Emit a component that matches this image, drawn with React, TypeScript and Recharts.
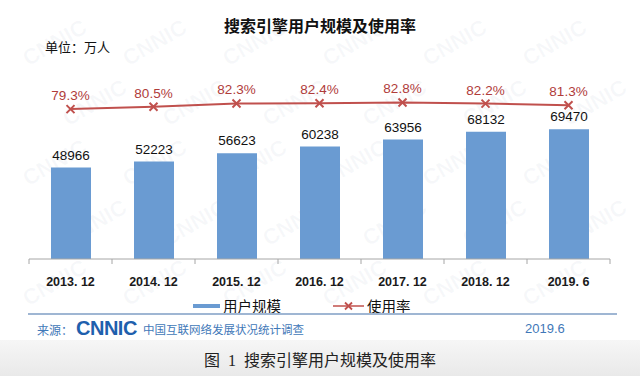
import React from "react";
import {
  Bar,
  ComposedChart,
  LabelList,
  Line,
  XAxis,
  YAxis,
} from "recharts";

const categories = ["2013. 12", "2014. 12", "2015. 12", "2016. 12", "2017. 12", "2018. 12", "2019. 6"];
const userScale = [48966, 52223, 56623, 60238, 63956, 68132, 69470];
const usageRate = [79.3, 80.5, 82.3, 82.4, 82.8, 82.2, 81.3];

const chartData = categories.map((c, i) => ({
  period: c,
  users: userScale[i],
  rate: usageRate[i],
}));

const W = 640;
const H = 376;
const PLOT_LEFT = 29;
const PLOT_RIGHT = 610;
const BAND = (PLOT_RIGHT - PLOT_LEFT) / categories.length;

const SANS = '"Liberation Sans", Arial, "Noto Sans CJK SC", sans-serif';
const CJK = '"Noto Sans CJK SC", "Liberation Sans", sans-serif';
const BAR_COLOR = "#6a9bd2";
const LINE_COLOR = "#c0504d";
const FOOT_BLUE = "#3f78b8";

function CrossDot(props: any) {
  const { cx, cy } = props;
  if (cx == null || cy == null) return null;
  const s = 4;
  return (
    <path
      d={`M${cx - s},${cy - s}L${cx + s},${cy + s}M${cx + s},${cy - s}L${cx - s},${cy + s}`}
      stroke={LINE_COLOR}
      strokeWidth={2}
      fill="none"
    />
  );
}

function PeriodTick(props: any) {
  const { x, y, payload, index } = props;
  const last = index === categories.length - 1;
  const top = y - 8;
  return (
    <g>
      <line x1={x - BAND / 2} y1={top} x2={x - BAND / 2} y2={top + 5} stroke="#a6a6a6" />
      {last && (
        <line x1={x + BAND / 2} y1={top} x2={x + BAND / 2} y2={top + 5} stroke="#a6a6a6" />
      )}
      <text
        x={x}
        y={top + 27}
        textAnchor="middle"
        fontSize={12.5}
        fontWeight="bold"
        fontFamily={SANS}
        fill="#1a1a1a"
      >
        {payload.value}
      </text>
    </g>
  );
}

// faint CNNIC watermark, kept inside the frame
function Watermarks() {
  const marks = [];
  for (let r = 0; r < 5; r++) {
    for (let c = 0; c < 6; c++) {
      marks.push(
        <div
          key={`${r}-${c}`}
          style={{
            position: "absolute",
            left: 20 + c * 100 + (r % 2) * 40,
            top: 30 + r * 60,
            transform: "rotate(-30deg)",
            fontFamily: SANS,
            fontWeight: "bold",
            fontSize: 22,
            color: "rgba(120,140,160,0.06)",
            whiteSpace: "nowrap",
          }}
        >
          CNNIC
        </div>
      );
    }
  }
  return <>{marks}</>;
}

export default function App() {
  return (
    <div
      style={{
        position: "absolute",
        left: 0,
        top: 0,
        width: W,
        height: H,
        background: "#fff",
        overflow: "hidden",
      }}
    >
      <Watermarks />
      <div
        style={{
          position: "absolute",
          left: 0,
          top: 13,
          width: W,
          textAlign: "center",
          fontFamily: CJK,
          fontWeight: "bold",
          fontSize: 16,
          color: "#111",
        }}
      >
        搜索引擎用户规模及使用率
      </div>
      <div
        style={{
          position: "absolute",
          left: 45,
          top: 37,
          fontFamily: CJK,
          fontSize: 13,
          color: "#111",
        }}
      >
        单位：万人
      </div>

      <div style={{ position: "absolute", left: 0, top: 0 }}>
        <ComposedChart
          width={W}
          height={H}
          data={chartData}
          margin={{ top: 35, right: W - PLOT_RIGHT, left: PLOT_LEFT, bottom: 87 }}
        >
          <XAxis
            dataKey="period"
            height={30}
            axisLine={{ stroke: "#a6a6a6" }}
            tickLine={false}
            interval={0}
            tick={<PeriodTick />}
          />
          <YAxis yAxisId="users" hide domain={[0, 120000]} />
          <YAxis yAxisId="rate" hide orientation="right" domain={[0, 118.5]} />
          <Bar
            yAxisId="users"
            dataKey="users"
            fill={BAR_COLOR}
            barSize={40}
            isAnimationActive={false}
          >
            <LabelList
              dataKey="users"
              position="top"
              offset={8}
              fill="#111"
              fontSize={13.5}
              fontFamily={SANS}
            />
          </Bar>
          <Line
            yAxisId="rate"
            dataKey="rate"
            stroke={LINE_COLOR}
            strokeWidth={2}
            dot={<CrossDot />}
            activeDot={false}
            isAnimationActive={false}
          >
            <LabelList
              dataKey="rate"
              position="top"
              offset={9}
              fill="#b03c3a"
              fontSize={13.5}
              fontFamily={SANS}
              formatter={(v: any) => `${Number(v).toFixed(1)}%`}
            />
          </Line>
        </ComposedChart>
      </div>

      {/* legend */}
      <div
        style={{
          position: "absolute",
          top: 295,
          left: 193,
          display: "flex",
          alignItems: "center",
          fontFamily: CJK,
          fontSize: 14.5,
          color: "#111",
        }}
      >
        <svg width={27} height={10}>
          <rect x={0} y={3} width={27} height={4} fill={BAR_COLOR} />
        </svg>
        <span style={{ marginLeft: 3 }}>用户规模</span>
        <svg width={31} height={12} style={{ marginLeft: 52 }}>
          <line x1={0} y1={6} x2={31} y2={6} stroke={LINE_COLOR} strokeWidth={1.5} />
          <path d="M12,2.5L19,9.5M19,2.5L12,9.5" stroke={LINE_COLOR} strokeWidth={1.8} />
        </svg>
        <span style={{ marginLeft: 3 }}>使用率</span>
      </div>

      {/* source bar */}
      <div
        style={{
          position: "absolute",
          left: 28,
          top: 313,
          width: 589,
          height: 2,
          background: "#9fb6d3",
        }}
      />
      <div
        style={{
          position: "absolute",
          left: 37,
          top: 321,
          fontFamily: CJK,
          fontSize: 12,
          color: FOOT_BLUE,
        }}
      >
        来源：
      </div>
      <div
        style={{
          position: "absolute",
          left: 76,
          top: 317,
          fontFamily: SANS,
          fontWeight: "bold",
          fontSize: 20,
          letterSpacing: -0.5,
          color: "#1f60ad",
        }}
      >
        CNNIC
      </div>
      <div
        style={{
          position: "absolute",
          left: 143,
          top: 321,
          fontFamily: CJK,
          fontSize: 11.5,
          color: FOOT_BLUE,
        }}
      >
        中国互联网络发展状况统计调查
      </div>
      <div
        style={{
          position: "absolute",
          left: 525,
          top: 321,
          fontFamily: SANS,
          fontSize: 13,
          color: FOOT_BLUE,
        }}
      >
        2019.6
      </div>

      {/* caption band */}
      <div
        style={{
          position: "absolute",
          left: 0,
          top: 340,
          width: W,
          height: 36,
          background: "linear-gradient(#f6f6f6, #e9e9e9)",
        }}
      />
      <div
        style={{
          position: "absolute",
          left: 0,
          top: 347,
          width: W,
          textAlign: "center",
          fontFamily: '"Liberation Serif", "Noto Sans CJK SC", serif',
          fontSize: 16,
          color: "#222",
          wordSpacing: 4,
        }}
      >
        图 1 搜索引擎用户规模及使用率
      </div>
    </div>
  );
}
